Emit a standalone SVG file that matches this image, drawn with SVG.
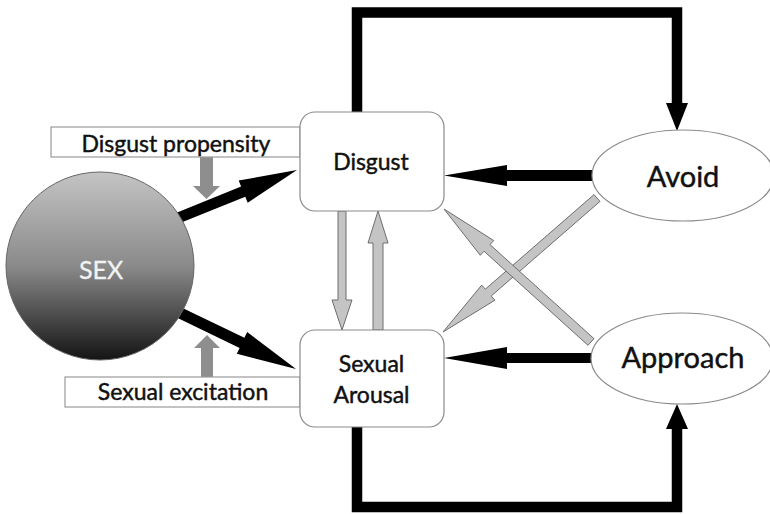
<svg xmlns="http://www.w3.org/2000/svg" width="770" height="514" viewBox="0 0 770 514">
<defs>
<linearGradient id="sexGrad" x1="0" y1="0" x2="0" y2="1">
<stop offset="0" stop-color="#c4c4c4"/>
<stop offset="0.5" stop-color="#8a8a8a"/>
<stop offset="1" stop-color="#141414"/>
</linearGradient>
<style>
.t{font-family:Lato,"Liberation Sans",sans-serif;fill:#111;stroke:#111;stroke-width:0.45;text-anchor:middle}
.s{font-size:23px}
.b{font-size:29px}
.box{fill:#fff;stroke:#8a8a8a;stroke-width:1.2}
.lab{fill:#fff;stroke:#9a9a9a;stroke-width:1.2}
.blk{fill:#000}
.loop{fill:none;stroke:#000;stroke-width:10.5;stroke-linejoin:miter}
.dg{fill:#8e8e8e}
.lg{fill:#c4c4c4;stroke:#6e6e6e;stroke-width:1}
</style>
</defs>
<rect width="770" height="514" fill="#fff"/>
<g id="connectors">
<path class="loop" d="M357,113 V12.5 H677 V104"/>
<polygon class="blk" points="666,103 688,103 677,131"/>
<path class="loop" d="M357,427 V507 H677 V429"/>
<polygon class="blk" points="666,429 688,429 677,404"/>
<polygon class="blk" points="594,170 507,170 507,165 444,175.5 507,186 507,181 594,181"/>
<polygon class="blk" points="593,353 507,353 507,347 444,358 507,369 507,363 593,363"/>
<polygon class="blk" points="180.1,223.1 245.3,196.8 247.7,202.8 297,170 238.7,180.6 241.1,186.6 175.9,212.9"/>
<polygon class="blk" points="175.6,317 239.6,348 236.8,353.7 296,369 247.2,332.1 244.4,337.8 180.4,307"/>
<polygon class="dg" points="200,157 213,157 213,186 220,186 206.5,199 193,186 200,186"/>
<polygon class="dg" points="201,377 213,377 213,348 220,348 207,335 194,348 201,348"/>
<polygon class="lg" points="338,211 346,211 346,300 352,300 342,330 332,300 338,300"/>
<polygon class="lg" points="373,330 383,330 383,243 388,243 378,211 368,243 373,243"/>
<polygon class="lg" points="594,194.6 485.3,289.2 481.7,285.1 443,332 494.9,300.2 491.2,296 600,201.4"/>
<polygon class="lg" points="594,338.7 490,244.6 493.7,240.5 444,209 480.3,255.3 484,251.2 588,345.3"/>
</g>
<g id="node-sex">
<circle cx="100" cy="266" r="94" fill="url(#sexGrad)" stroke="#666" stroke-width="1"/>
<text class="t" x="101" y="279" font-size="25" style="fill:#f2f2f2;stroke:#f2f2f2;stroke-width:0.3">SEX</text>
</g>
<g id="node-disgust-propensity">
<rect class="lab" x="51" y="127" width="249" height="30"/>
<text class="t s" x="176" y="152">Disgust propensity</text>
</g>
<g id="node-sexual-excitation">
<rect class="lab" x="65" y="377" width="235" height="30"/>
<text class="t s" x="183" y="400">Sexual excitation</text>
</g>
<g id="node-disgust">
<rect class="box" x="300" y="112" width="144" height="99" rx="15"/>
<text class="t s" x="371" y="170">Disgust</text>
</g>
<g id="node-sexual-arousal">
<rect class="box" x="300" y="330" width="144" height="97" rx="15"/>
<text class="t s" x="371.5" y="372">Sexual</text>
<text class="t s" x="371.5" y="403">Arousal</text>
</g>
<g id="node-avoid">
<ellipse class="box" cx="683" cy="175.5" rx="91" ry="45.5"/>
<text class="t b" x="683" y="187">Avoid</text>
</g>
<g id="node-approach">
<ellipse class="box" cx="682" cy="358.5" rx="91" ry="45.5"/>
<text class="t b" x="683" y="368">Approach</text>
</g>
</svg>
